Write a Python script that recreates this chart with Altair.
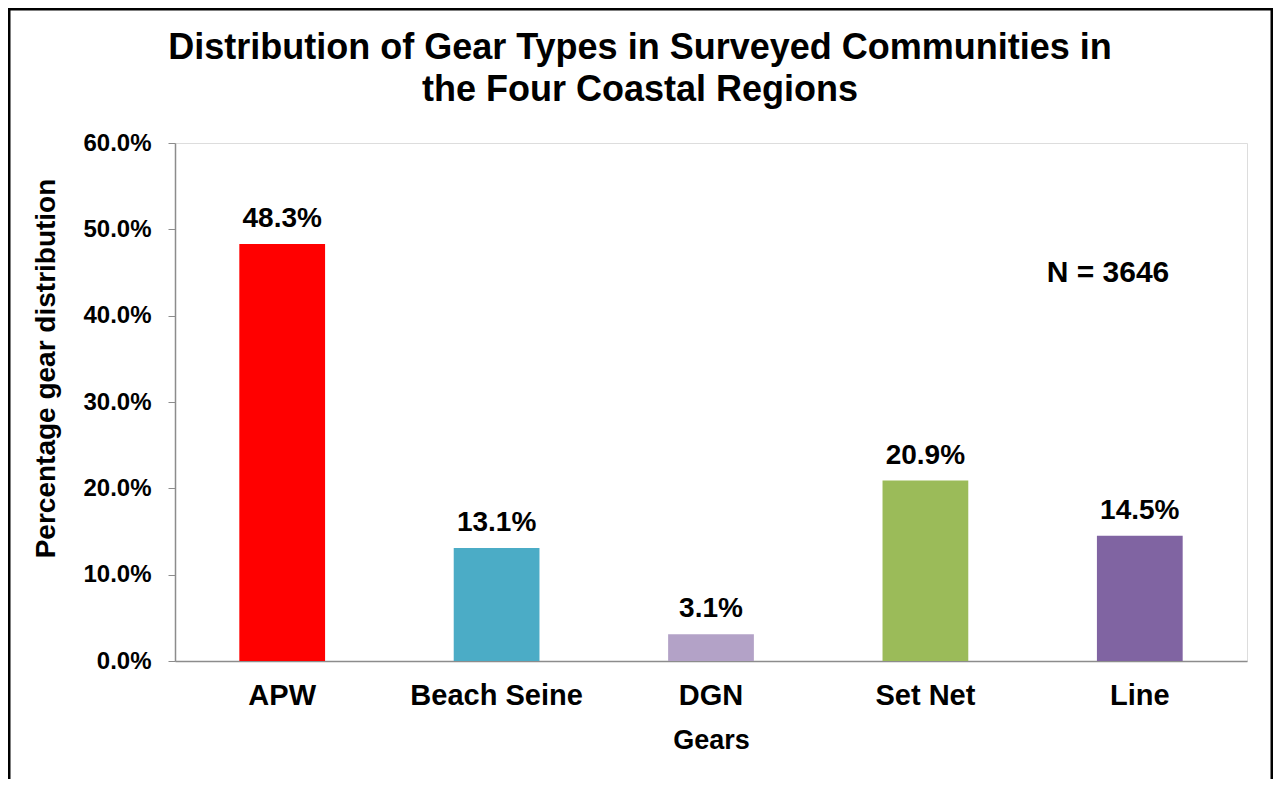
import altair as alt
import pandas as pd

gears = ["APW", "Beach Seine", "DGN", "Set Net", "Line"]
shares = [0.483, 0.131, 0.031, 0.209, 0.145]
colors = ["#FF0000", "#4BACC6", "#B3A2C7", "#9BBB59", "#8064A2"]
y_ticks = [0.0, 0.1, 0.2, 0.3, 0.4, 0.5, 0.6]
note = "N = 3646"
title_lines = ["Distribution of Gear Types in Surveyed Communities in", "the Four Coastal Regions"]

df = pd.DataFrame({"gear": gears, "share": shares, "color": colors})

FONT = "Liberation Sans"

x_enc = alt.X(
    "gear:N",
    sort=gears,
    scale=alt.Scale(paddingInner=0.6, paddingOuter=0.3),
    axis=alt.Axis(
        title="Gears",
        labelAngle=0,
        ticks=False,
        labelPadding=20,
        labelFontSize=29,
        labelFont=FONT,
        labelFontWeight="bold",
        labelColor="black",
        titleFont=FONT,
        titleFontSize=27,
        titleFontWeight="bold",
        titleColor="black",
        titlePadding=17,
        domainColor="#8c8c8c",
        domainWidth=1.5,
    ),
)

y_enc = alt.Y(
    "share:Q",
    scale=alt.Scale(domain=[0, 0.6]),
    axis=alt.Axis(
        values=y_ticks,
        format=".1%",
        grid=False,
        tickSize=7,
        tickColor="#8c8c8c",
        domainColor="#8c8c8c",
        domainWidth=1.5,
        labelPadding=17,
        labelFont=FONT,
        labelFontSize=24,
        labelFontWeight="bold",
        labelColor="black",
        title="Percentage gear distribution",
        titleFont=FONT,
        titleFontSize=28,
        titleFontWeight="bold",
        titleColor="black",
        titleAngle=270,
        titleAlign="center",
        titleBaseline="middle",
        titleX=-129,
        titleY=225,
    ),
)

bars = alt.Chart(df).mark_bar().encode(
    x=x_enc,
    y=y_enc,
    color=alt.Color("color:N", scale=None),
)

labels = alt.Chart(df).mark_text(
    font=FONT, fontSize=28, fontWeight="bold", color="black", baseline="alphabetic", dy=-17
).encode(
    x=alt.X("gear:N", sort=gears),
    y="share:Q",
    text=alt.Text("share:Q", format=".1%"),
)

ann = alt.Chart(pd.DataFrame({"t": [note]})).mark_text(
    font=FONT, fontSize=30, fontWeight="bold", color="black", align="center", baseline="middle"
).encode(x=alt.value(933), y=alt.value(130), text="t:N")

title = alt.Chart(pd.DataFrame({"k": [0]})).mark_text(
    font=FONT, fontSize=36, fontWeight="bold", color="black", align="center",
    baseline="alphabetic", lineHeight=42, text=title_lines,
).encode(x=alt.value(465), y=alt.value(-84))

border = alt.Chart(pd.DataFrame({"b": [1]})).mark_rect(
    fill=None, stroke="black", strokeWidth=3, clip=False
).encode(
    x=alt.value(-166), x2=alt.value(1097), y=alt.value(-134), y2=alt.value(640)
)

chart = (
    alt.layer(bars, labels, ann, title, border)
    .properties(
        width=1072,
        height=518,
        autosize=alt.AutoSizeParams(type="none"),
        padding={"left": 167, "top": 135, "right": 26, "bottom": 118},
    )
    .configure_view(stroke="transparent", strokeWidth=0)
    .configure(background="white")
)

chart.save("out.html", embed_options={"renderer": "svg", "actions": False})
